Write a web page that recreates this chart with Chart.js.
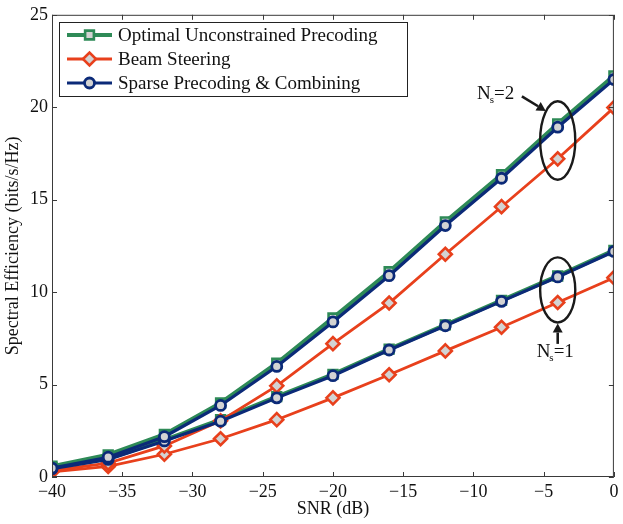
<!DOCTYPE html>
<html>
<head>
<meta charset="utf-8">
<script src="https://cdn.jsdelivr.net/npm/chart.js@4.4.1/dist/chart.umd.min.js"></script>
<style>
  html, body { margin: 0; padding: 0; background: #fff; }
  #wrap { width: 623px; height: 524px; }
</style>
</head>
<body>
<div id="wrap"><canvas id="se"></canvas></div>
<script>
// SNR points (dB)
const snr = [-40, -36, -32, -28, -24, -20, -16, -12, -8, -4, 0];

// spectral efficiency (bits/s/Hz)
const optimalNs2 = [0.58, 1.2, 2.3, 4.0, 6.15, 8.6, 11.1, 13.8, 16.35, 19.1, 21.7];
const beamNs2    = [0.35, 0.75, 1.68, 3.04, 4.93, 7.21, 9.41, 12.05, 14.62, 17.21, 19.98];
const sparseNs2  = [0.48, 1.07, 2.18, 3.87, 5.98, 8.39, 10.89, 13.6, 16.16, 18.92, 21.5];
const optimalNs1 = [0.5, 1.0, 2.0, 3.1, 4.35, 5.55, 6.92, 8.23, 9.55, 10.87, 12.25];
const beamNs1    = [0.28, 0.57, 1.23, 2.07, 3.1, 4.28, 5.53, 6.82, 8.1, 9.44, 10.78];
const sparseNs1  = [0.45, 0.95, 1.95, 3.02, 4.28, 5.48, 6.87, 8.18, 9.5, 10.82, 12.2];

const legendLabels = ["Optimal Unconstrained Precoding", "Beam Steering", "Sparse Precoding & Combining"];
const xTicks = [-40, -35, -30, -25, -20, -15, -10, -5, 0];
const yTicks = [0, 5, 10, 15, 20, 25];

const GREEN = "#2e8a57";
const RED = "#e8401c";
const BLUE = "#0b2a78";
const FILL = "#d3d3d3";
const FONT = "'Liberation Serif', 'DejaVu Serif', serif";

function pts(ys) {
  return snr.map((x, i) => ({ x: x, y: ys[i] }));
}

const styles = [
  { color: GREEN, point: "rect", radius: 6.2, lw: 4.2, bw: 2.6 },
  { color: RED, point: "rectRot", radius: 6.5, lw: 2.8, bw: 2.6 },
  { color: BLUE, point: "circle", radius: 5, lw: 3.2, bw: 2.8 }
];

function makeSet(label, ys, s, order) {
  return {
    label: label,
    data: pts(ys),
    borderColor: s.color,
    backgroundColor: FILL,
    borderWidth: s.lw,
    pointStyle: s.point,
    pointRadius: s.radius,
    pointBorderWidth: s.bw,
    pointBorderColor: s.color,
    pointBackgroundColor: FILL,
    tension: 0,
    order: order
  };
}

// annotations (data coordinates)
const ellipses = [
  { x: -4, y: 18.2, rx: 1.25, ry: 2.12 },
  { x: -4, y: 10.12, rx: 1.25, ry: 1.76 }
];
const arrows = [
  { x1: -6.55, y1: 20.59, x2: -4.85, y2: 19.8 },
  { x1: -4.0, y1: 7.2, x2: -4.0, y2: 8.3 }
];
const nsLabels = [
  { x: -9.75, y: 20.43, n: "2" },
  { x: -5.5, y: 6.5, n: "1" }
];

function drawMarker(ctx, s, x, y) {
  Chart.helpers.drawPoint(ctx, { pointStyle: s.point, radius: s.radius, borderWidth: s.bw, rotation: 0 }, x, y);
}

const framePlugin = {
  id: "frame",
  afterDatasetsDraw(chart) {
    const ctx = chart.ctx;
    const a = chart.chartArea;
    const xs = chart.scales.x, ys = chart.scales.y;
    ctx.save();
    // box and inward ticks
    ctx.strokeStyle = "#3a3a3a";
    ctx.lineWidth = 1;
    ctx.strokeRect(a.left + 0.5, a.top + 0.5, a.right - a.left - 1, a.bottom - a.top - 1);
    ctx.beginPath();
    xTicks.forEach(v => {
      const px = Math.round(xs.getPixelForValue(v)) + 0.5;
      ctx.moveTo(px, a.bottom); ctx.lineTo(px, a.bottom - 5);
      ctx.moveTo(px, a.top); ctx.lineTo(px, a.top + 5);
    });
    yTicks.forEach(v => {
      const py = Math.round(ys.getPixelForValue(v)) + 0.5;
      ctx.moveTo(a.left, py); ctx.lineTo(a.left + 5, py);
      ctx.moveTo(a.right, py); ctx.lineTo(a.right - 5, py);
    });
    ctx.stroke();

    // legend
    const lx = 59, ly = 22, lw = 348, lh = 74;
    ctx.fillStyle = "#fff";
    ctx.fillRect(lx, ly, lw, lh);
    ctx.strokeStyle = "#222";
    ctx.strokeRect(lx + 0.5, ly + 0.5, lw, lh);
    ctx.font = "19px " + FONT;
    ctx.textBaseline = "middle";
    legendLabels.forEach((t, i) => {
      const s = styles[i];
      const cy = ly + 13 + i * 24;
      ctx.strokeStyle = s.color;
      ctx.lineWidth = s.lw;
      ctx.beginPath();
      ctx.moveTo(67, cy); ctx.lineTo(112, cy);
      ctx.stroke();
      ctx.fillStyle = FILL;
      ctx.strokeStyle = s.color;
      ctx.lineWidth = s.bw;
      drawMarker(ctx, s, 89.5, cy);
      ctx.fillStyle = "#111";
      ctx.fillText(t, 118, cy + 1);
    });

    // ellipses
    ctx.strokeStyle = "#1a1a1a";
    ctx.lineWidth = 2.4;
    ellipses.forEach(e => {
      const cx = xs.getPixelForValue(e.x), cy = ys.getPixelForValue(e.y);
      const rx = Math.abs(xs.getPixelForValue(e.x + e.rx) - cx);
      const ry = Math.abs(ys.getPixelForValue(e.y + e.ry) - cy);
      ctx.beginPath();
      ctx.ellipse(cx, cy, rx, ry, 0, 0, Math.PI * 2);
      ctx.stroke();
    });

    // arrows
    ctx.fillStyle = "#1a1a1a";
    arrows.forEach(ar => {
      const x1 = xs.getPixelForValue(ar.x1), y1 = ys.getPixelForValue(ar.y1);
      const x2 = xs.getPixelForValue(ar.x2), y2 = ys.getPixelForValue(ar.y2);
      const ang = Math.atan2(y2 - y1, x2 - x1);
      const hl = 9, hw = 5;
      const bx = x2 - hl * Math.cos(ang), by = y2 - hl * Math.sin(ang);
      ctx.lineWidth = 2.6;
      ctx.beginPath();
      ctx.moveTo(x1, y1); ctx.lineTo(bx, by);
      ctx.stroke();
      ctx.beginPath();
      ctx.moveTo(x2, y2);
      ctx.lineTo(bx + hw * Math.sin(ang), by - hw * Math.cos(ang));
      ctx.lineTo(bx - hw * Math.sin(ang), by + hw * Math.cos(ang));
      ctx.closePath();
      ctx.fill();
    });

    // N_s labels
    ctx.fillStyle = "#111";
    ctx.textBaseline = "alphabetic";
    nsLabels.forEach(l => {
      let px = xs.getPixelForValue(l.x);
      const py = ys.getPixelForValue(l.y);
      ctx.font = "19px " + FONT;
      ctx.fillText("N", px, py);
      px += ctx.measureText("N").width;
      ctx.font = "11px " + FONT;
      ctx.fillText("s", px - 1, py + 4);
      px += ctx.measureText("s").width - 1;
      ctx.font = "19px " + FONT;
      ctx.fillText("=" + l.n, px, py);
    });
    ctx.restore();
  }
};

const minus = v => String(v).replace("-", "\u2212");

new Chart(document.getElementById("se"), {
  type: "line",
  data: {
    datasets: [
      makeSet(legendLabels[0], optimalNs2, styles[0], 3),
      makeSet(legendLabels[0], optimalNs1, styles[0], 3),
      makeSet(legendLabels[1], beamNs2, styles[1], 2),
      makeSet(legendLabels[1], beamNs1, styles[1], 2),
      makeSet(legendLabels[2], sparseNs2, styles[2], 1),
      makeSet(legendLabels[2], sparseNs1, styles[2], 1)
    ]
  },
  options: {
    responsive: true,
    maintainAspectRatio: false,
    animation: false,
    devicePixelRatio: 1,
    layout: { padding: { left: 0, top: 12, right: 9, bottom: 0 } },
    plugins: {
      legend: { display: false },
      tooltip: { enabled: false }
    },
    scales: {
      x: {
        type: "linear",
        min: -40,
        max: 0,
        afterFit: s => { s.height = 47; },
        afterBuildTicks: s => { s.ticks = xTicks.map(v => ({ value: v })); },
        grid: { display: false, drawTicks: false },
        border: { display: false },
        ticks: {
          padding: 4,
          color: "#111",
          font: { family: FONT, size: 18 },
          maxRotation: 0,
          callback: v => minus(v)
        },
        title: {
          display: true,
          text: "SNR (dB)",
          color: "#111",
          font: { family: FONT, size: 18 },
          padding: { top: 0, bottom: 4 }
        }
      },
      y: {
        min: 0,
        max: 25,
        afterFit: s => { s.width = 52; },
        afterBuildTicks: s => { s.ticks = yTicks.map(v => ({ value: v })); },
        grid: { display: false, drawTicks: false },
        border: { display: false },
        ticks: {
          padding: 4,
          color: "#111",
          font: { family: FONT, size: 18 }
        },
        title: {
          display: true,
          text: "Spectral Efficiency (bits/s/Hz)",
          color: "#111",
          font: { family: FONT, size: 18 },
          padding: { top: 2, bottom: 0 }
        }
      }
    }
  },
  plugins: [framePlugin]
});
</script>
</body>
</html>
